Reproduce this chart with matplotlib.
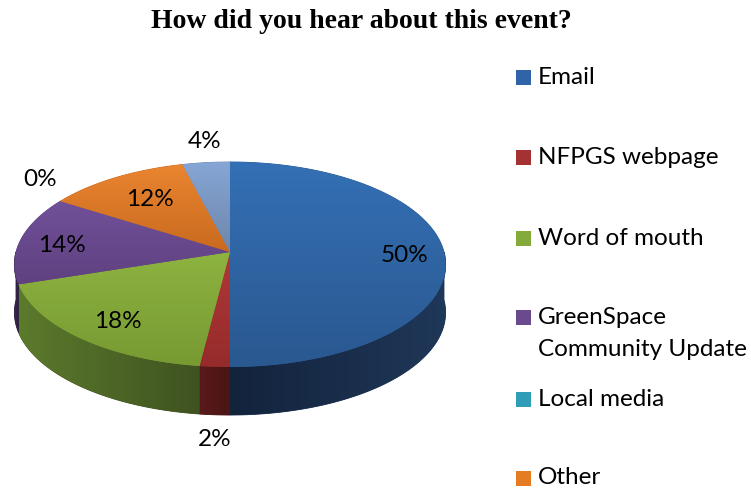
import numpy as np
import matplotlib
matplotlib.use("Agg")
import matplotlib.pyplot as plt
from matplotlib.patches import Polygon, Rectangle
from matplotlib.colors import to_rgb

# ---- data ----
categories = ["Email", "NFPGS webpage", "Word of mouth",
              "GreenSpace\nCommunity Update", "Local media", "Other", ""]
values = [50, 2, 18, 14, 0, 12, 4]
title = "How did you hear about this event?"

# ---- style ----
top_light = ["#3470B5", "#B03838", "#8DB340", "#71509A", "#31A3BF", "#EA8530", "#86A6D6"]
top_dark = ["#2A5890", "#962B2B", "#779A32", "#5F4180", "#278AA3", "#C96A1E", "#6E86AA"]
side_a = ["#13233C", "#5A1A1A", "#5C7A2C", "#3A2850", "#175466", "#7A4012", "#44526A"]
side_b = ["#1F3758", "#4A1515", "#3F5320", "#2E2040", "#124455", "#633410", "#39465C"]
legend_colors = ["#2F64A8", "#A53232", "#85AA3C", "#6A4A8E", "#2F9DB8", "#E47C24"]

fig = plt.figure(figsize=(7.51, 4.91), dpi=100)
ax = fig.add_axes([0, 0, 1, 1])

# perspective-projected disc
cx, cy, A, B, k, depth = 230, 252, 214, 101, 0.122, 48
font = "Lato"


def pts(t0, t1, dy=0, n=200):
    th = np.radians(np.linspace(t0, t1, n))
    u, v = np.sin(th), np.cos(th)
    d = 1 + k * v
    return np.column_stack([cx + A * u / d, cy - B * v / d + dy])


def grad_fill(poly, c0, c1, vertical=True):
    patch = Polygon(poly, closed=True, facecolor="none", edgecolor="none")
    ax.add_patch(patch)
    x0, y0 = poly.min(axis=0)
    x1, y1 = poly.max(axis=0)
    n = 64
    t = np.linspace(0, 1, n)[:, None]
    col = (1 - t) * np.array(to_rgb(c0)) + t * np.array(to_rgb(c1))
    img = col[:, None, :] if vertical else col[None, :, :]
    im = ax.imshow(img, extent=[x0, x1, y1, y0], aspect="auto",
                   interpolation="bilinear", zorder=2)
    im.set_clip_path(patch)
    ax.add_patch(Polygon(poly, closed=True, facecolor=c1, edgecolor=c1,
                         linewidth=0.6, zorder=1.9))


total = float(sum(values))
bounds = np.concatenate([[0], np.cumsum(values)]) / total * 360.0

# side walls (visible front part)
for i in range(len(values)):
    t0, t1 = bounds[i], bounds[i + 1]
    s0, s1 = max(t0, 90), min(t1, 270)
    if s1 <= s0:
        continue
    top = pts(s0, s1)
    bot = pts(s1, s0, dy=depth)
    grad_fill(np.vstack([top, bot]), side_a[i], side_b[i], vertical=False)

# top faces
for i in range(len(values)):
    t0, t1 = bounds[i], bounds[i + 1]
    if t1 - t0 <= 0:
        continue
    poly = np.vstack([[cx, cy], pts(t0, t1)])
    grad_fill(poly, top_light[i], top_dark[i], vertical=True)

# data labels
label_pos = [(405, 255), (215, 440), (118, 322), (62, 245), (40, 180), (150, 200), (205, 142)]
for v, (x, y) in zip(values, label_pos):
    ax.text(x, y, f"{v}%", ha="center", va="center", fontsize=17.5,
            family=font, color="black", zorder=5)

# legend
leg_y = [77, 157, 238, 317, 399, 478]
for name, c, y in zip(categories[:6], legend_colors, leg_y):
    ax.add_patch(Rectangle((516, y - 7.5), 15, 15, facecolor=c, edgecolor="none", zorder=5))
    for j, line in enumerate(name.split("\n")):
        ax.text(538, y + 33 * j, line, ha="left", va="center", fontsize=17.5,
                family=font, zorder=5)

ax.text(361, 21, title, ha="center", va="center", fontsize=20,
        family="Liberation Serif", fontweight="bold", zorder=5)

ax.set_xlim(0, 751)
ax.set_ylim(491, 0)
ax.axis("off")
fig.savefig("out.png", dpi=100)
